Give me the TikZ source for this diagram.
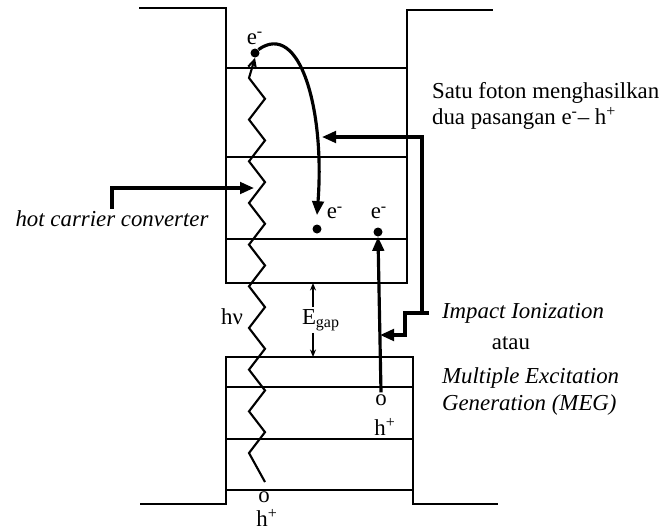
\documentclass[tikz,border=0pt]{standalone}
\usepackage{fontspec}
\setmainfont{Liberation Serif}
\usetikzlibrary{arrows.meta, positioning}

\begin{document}
\begin{tikzpicture}[x=0.2mm, y=-0.2mm, >={Triangle[length=2.8mm, width=2.3mm]},
    band/.style={line width=1.1pt},
    arr/.style={->, line width=1.8pt},
    photon/.style={line width=1.2pt, -{Straight Barb[length=1.6mm, width=1.6mm]}},
    gaparr/.style={line width=0.8pt, -{Stealth[length=1.5mm, width=1.2mm]}},
    dot/.style={circle, fill, inner sep=0pt, minimum size=1.8mm},
    lbl/.style={inner sep=1pt, font=\fontsize{13}{15}\selectfont},
    itlbl/.style={inner sep=1pt, font=\fontsize{13}{15}\selectfont\itshape}]
    \useasboundingbox (0,0) rectangle (660,530);

    % Band edges
    \draw[band] (139,8) -- (226,8) -- (226,283) -- (407,283) -- (407,10) -- (493,10);
    \draw[band] (140,504) -- (226,504) -- (226,357) -- (413,357) -- (413,504) -- (498,504);

    % Levels
    \foreach \y in {68,157,239} \draw[band] (226,\y) -- (407,\y);
    \foreach \y in {387,439,490} \draw[band] (226,\y) -- (413,\y);

    % Carriers
    \node[dot] (eTop) at (255,53) {};
    \node[lbl, above=1pt of eTop] (eTopLbl) {e\textsuperscript{-}};
    \node[dot] (eMid) at (317,229) {};
    \node[lbl] (eMidLbl) at (335,213) {e\textsuperscript{-}};
    \node[dot] (eRight) at (378,232) {};
    \node[lbl] (eRightLbl) at (379,213) {e\textsuperscript{-}};
    \node[lbl] (hMidO) at (381,400) {o};
    \node[lbl] (hMid) at (385,427) {h\textsuperscript{+}};
    \node[lbl] (hBotO) at (264,497) {o};
    \node[lbl] (hBot) at (267,518) {h\textsuperscript{+}};

    % Photon
    \draw[photon] (265,482) -- (249,453)
        \foreach \i in {1,...,9} { -- (265,{473.8-\i*41.67}) -- (249,{453-\i*41.67}) }
        -- (eTop.south);
    \node[lbl] (hnu) at (232,317) {hν};

    % Gap
    \node[lbl] (gap) at (321,320) {E\textsubscript{gap}};
    \coordinate (cbEdge) at (313,283);
    \coordinate (vbEdge) at (313,357);
    \draw[gaparr] (gap.north -| cbEdge) -- (cbEdge);
    \draw[gaparr] (gap.south -| vbEdge) -- (vbEdge);

    % Transitions
    \draw[arr] (eTop.north east) .. controls (300,20) and (325,110) .. ([yshift=1.8mm]eMid.north);
    \draw[arr] (hMidO.north) -- (eRight.south);

    % Hot carrier converter
    \node[itlbl] (hcc) at (112,219) {hot carrier converter};
    \coordinate (zzHit) at (254,188);
    \draw[arr] (hcc.north) |- (zzHit);

    % Labels right
    \node[lbl, anchor=north west, align=left] (satu) at (430,80)
        {Satu foton menghasilkan\\dua pasangan e\textsuperscript{-}– h\textsuperscript{+}};
    \node[itlbl, anchor=west] (imp) at (440,313) {Impact Ionization};
    \node[lbl] (atau) at (511,343) {atau};
    \node[itlbl, anchor=north west, align=left] (meg) at (440,366)
        {Multiple Excitation\\Generation (MEG)};

    % Impact ionization arrows
    \coordinate (split) at (422,313);
    \coordinate (hitTop) at (322,137);
    \coordinate (hitMid) at (380,335);
    \draw[arr] ([xshift=-2.2mm]imp.west) -- (split) |- (hitTop);
    \draw[arr] (split) -| (405,335) -- (hitMid);
\end{tikzpicture}
\end{document}
